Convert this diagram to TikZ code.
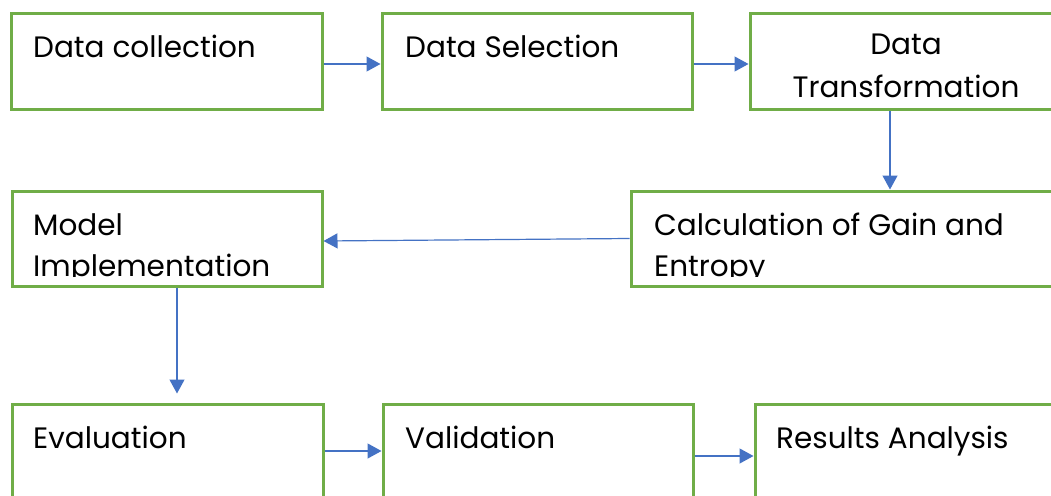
\documentclass[tikz,border=0pt]{standalone}
\usepackage{fontspec}
\setmainfont{Poppins}
\usetikzlibrary{arrows.meta}
\definecolor{boxgreen}{HTML}{70AD47}
\definecolor{arrowblue}{HTML}{4472C4}
\begin{document}
\begin{tikzpicture}[x=1pt,y=-1pt,
  box/.style={draw=boxgreen,line width=3pt,fill=white,minimum height=95pt,inner sep=0pt},
  lbl/.style={anchor=base west,inner sep=0pt,font=\fontsize{29.5}{41}\selectfont},
  arr/.style={draw=arrowblue,line width=1.2pt,-{Triangle[length=14pt,width=15pt]}}]
\clip (0,0) rectangle (1051,495);
\fill[white] (0,0) rectangle (1051,495);
% boxes
\node[box,minimum width=311pt] (dc) at (166.5,61.5) {};
\node[box,minimum width=310pt] (ds) at (537,61.5) {};
\node[box,minimum width=312pt] (dt) at (906,61.5) {};
\node[box,minimum width=440pt] (cg) at (851,238.5) {};
\node[box,minimum width=310pt] (mi) at (167,239) {};
\node[box,minimum width=311pt] (ev) at (167.5,451.5) {};
\node[box,minimum width=310pt] (va) at (538,451.5) {};
\node[box,minimum width=312pt] (ra) at (911,451.5) {};
% texts
\node[lbl] (tdc) at (33,58) {Data collection};
\node[lbl] (tds) at (405,58) {Data Selection};
\node[lbl,anchor=base] (tdt1) at (906,55) {Data};
\node[lbl,anchor=base] (tdt2) at (906,97) {Transformation};
\begin{scope}
  \clip (640,195) rectangle (1051,276);
  \node[lbl] (tcg1) at (654,235) {Calculation of Gain and};
  \node[lbl] (tcg2) at (654,276) {Entropy};
\end{scope}
\begin{scope}
  \clip (20,195) rectangle (315,276);
  \node[lbl] (tmi1) at (33,235) {Model};
  \node[lbl] (tmi2) at (33,276) {Implementation};
\end{scope}
\node[lbl] (tev) at (33,448) {Evaluation};
\node[lbl] (tva) at (405,448) {Validation};
\node[lbl] (tra) at (776,448) {Results Analysis};
% arrows
\draw[arr] ([yshift=-2.5pt]dc.east) -- ([yshift=-2.5pt]ds.west);
\draw[arr] ([yshift=-2.5pt]ds.east) -- ([yshift=-2.5pt]dt.west);
\draw[arr] (dt.south -| 890,0) -- (cg.north -| 890,0);
\draw[arr] (cg.west) -- ([yshift=-2pt]mi.east);
\draw[arr] (mi.south -| 177,0) -- ([yshift=9pt]ev.north -| 177,0);
\draw[arr] ([yshift=0.5pt]ev.east) -- ([yshift=0.5pt]va.west);
\draw[arr] ([yshift=-4.5pt]va.east) -- ([yshift=-4.5pt]ra.west);
\end{tikzpicture}
\end{document}
